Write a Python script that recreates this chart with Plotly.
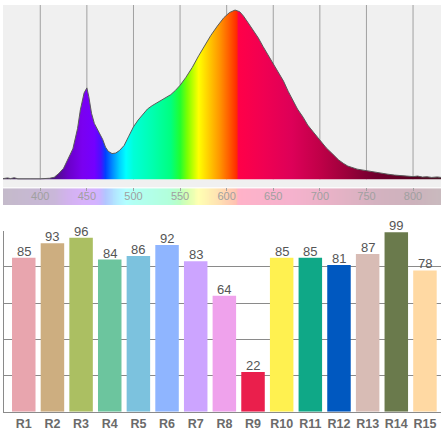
import plotly.graph_objects as go

# ---------------- data ----------------
wavelengths = [360, 365, 368, 372, 376, 380, 390, 400, 405, 410, 415, 420, 425, 430, 435,
               440, 443, 447, 450, 452, 455, 458, 461, 464, 467, 470, 473, 477, 481, 485,
               490, 495, 500, 505, 510, 515, 520, 525, 530, 535, 540, 545, 550, 556, 563,
               570, 577, 583, 590, 597, 603, 609, 614, 618, 623, 628, 634, 639, 645, 650,
               655, 661, 666, 671, 676, 682, 687, 693, 700, 707, 714, 720, 725, 730, 740,
               750, 758, 766, 773, 780, 790, 800, 805, 810, 815, 820, 826, 830]
intensity = [0.004, 0.008, 0.004, 0.009, 0.003, 0.004, 0.003, 0.003, 0.004, 0.006, 0.012, 0.035, 0.065, 0.12, 0.18,
             0.30, 0.41, 0.51, 0.54, 0.49, 0.39, 0.33, 0.30, 0.27, 0.235, 0.19, 0.165, 0.152, 0.155, 0.17,
             0.20, 0.255, 0.31, 0.35, 0.385, 0.415, 0.435, 0.45, 0.465, 0.48, 0.50, 0.525, 0.555, 0.60, 0.66,
             0.73, 0.795, 0.85, 0.905, 0.955, 0.985, 1.0, 0.99, 0.965, 0.925, 0.885, 0.835, 0.785, 0.73, 0.678,
             0.63, 0.58, 0.52, 0.464, 0.415, 0.367, 0.32, 0.279, 0.23, 0.185, 0.148, 0.115, 0.095, 0.078, 0.06,
             0.05, 0.042, 0.035, 0.03, 0.025, 0.02, 0.016, 0.019, 0.013, 0.015, 0.011, 0.014, 0.011]

axis_ticks = [400, 450, 500, 550, 600, 650, 700, 750, 800]

spectrum_stops = [
    (360, "#3a1a50"), (415, "#4a1080"), (430, "#6a00c8"), (445, "#7a00f0"),
    (458, "#7400ff"), (465, "#4a10ff"), (470, "#0040ff"), (478, "#0090ff"),
    (485, "#00d0ff"), (492, "#00ffff"), (500, "#00ffd8"), (520, "#00ffb0"),
    (540, "#00ff80"), (550, "#20ff30"), (558, "#80ff00"), (570, "#ffff00"),
    (580, "#ffd000"), (592, "#ff9800"), (602, "#ff6000"), (611, "#ff2a00"),
    (612.5, "#ff0048"), (640, "#f00052"), (670, "#dd0058"), (700, "#c00048"),
    (730, "#9a003a"), (760, "#70002e"), (800, "#580020"), (830, "#4a1828"),
]

categories = ["R1", "R2", "R3", "R4", "R5", "R6", "R7", "R8", "R9", "R10",
              "R11", "R12", "R13", "R14", "R15"]
ri_values = [85, 93, 96, 84, 86, 92, 83, 64, 22, 85, 85, 81, 87, 99, 78]
bar_colors = ["#e8a5ae", "#cdae80", "#abbf62", "#6cc59e", "#7cc2de", "#8fb5ff",
              "#cca4ff", "#efa2ec", "#ea1f4c", "#fff150", "#0fa887", "#0058c0",
              "#d8bcb5", "#6a7a4c", "#ffd9a3"]

# ---------------- helpers ----------------
WL_MIN, WL_MAX = 360, 830
H = 431.0
W = 441.0


def hex2rgb(h):
    h = h.lstrip("#")
    return tuple(int(h[i:i + 2], 16) for i in (0, 2, 4))


def lighten(h, t=0.7):
    r, g, b = hex2rgb(h)
    return "rgb(%d,%d,%d)" % (round(r + (255 - r) * t), round(g + (255 - g) * t), round(b + (255 - b) * t))


spec_scale = [[(wl - WL_MIN) / (WL_MAX - WL_MIN), c] for wl, c in spectrum_stops]
strip_scale = [[(wl - WL_MIN) / (WL_MAX - WL_MIN), lighten(c)] for wl, c in spectrum_stops]
strip_x = list(range(WL_MIN, WL_MAX + 1))


def ydom(top_px, bot_px):
    return [(H - bot_px) / H, (H - top_px) / H]


Y_TOP = 1.03
Y_BOT = -0.047
FONT = "Liberation Sans, Arial, sans-serif"

fig = go.Figure()

# spectrum
fig.add_trace(go.Scatter(
    x=wavelengths, y=intensity, mode="lines", fill="tozeroy",
    line=dict(color="#5a5a5a", width=1),
    fillgradient=dict(type="horizontal", colorscale=spec_scale, start=WL_MIN, stop=WL_MAX),
    xaxis="x", yaxis="y", showlegend=False, hoverinfo="skip",
))

# colour strip
fig.add_trace(go.Heatmap(
    x=strip_x, y=[0], z=[strip_x], colorscale=strip_scale, zmin=WL_MIN, zmax=WL_MAX,
    showscale=False, xaxis="x2", yaxis="y2", hoverinfo="skip",
))
# dummy trace for top tick marks axis
fig.add_trace(go.Scatter(x=[WL_MIN], y=[0], mode="markers", marker=dict(opacity=0),
                         xaxis="x3", yaxis="y2", showlegend=False, hoverinfo="skip"))

# bars
fig.add_trace(go.Bar(
    x=categories, y=ri_values, marker=dict(color=bar_colors, line=dict(width=0)),
    width=0.82, xaxis="x4", yaxis="y4", showlegend=False, hoverinfo="skip",
))

annotations = [dict(x=c, y=v, xref="x4", yref="y4", text=str(v), showarrow=False,
                    yanchor="bottom", yshift=-3,
                    font=dict(color="#555555", size=13, family=FONT))
               for c, v in zip(categories, ri_values)]

shapes = [dict(type="rect", xref="x domain", yref="y domain", x0=0, x1=1, y0=0, y1=1,
               fillcolor="#f0f0f0", line=dict(width=0), layer="below")]
for t in axis_ticks:
    shapes.append(dict(type="line", xref="x", yref="y", x0=t, x1=t, y0=0, y1=Y_TOP,
                       line=dict(color="#a0a0a0", width=1), layer="below"))

fig.update_layout(
    width=441, height=431,
    margin=dict(l=0, r=0, t=0, b=0),
    paper_bgcolor="white", plot_bgcolor="white",
    font=dict(family=FONT),
    shapes=shapes,
    annotations=annotations,
    xaxis=dict(domain=[3 / W, 1], range=[WL_MIN, WL_MAX], showgrid=False, showticklabels=False,
               zeroline=False, ticks="", anchor="y"),
    yaxis=dict(domain=ydom(5, 189), range=[Y_BOT, Y_TOP], showgrid=False, showticklabels=False,
               zeroline=False, ticks="", anchor="x"),
    xaxis2=dict(domain=[3 / W, 1], range=[WL_MIN, WL_MAX], showgrid=False, zeroline=False,
                tickvals=axis_ticks, ticks="", ticklabelposition="inside",
                tickfont=dict(size=11, color="#a0a0a0", family=FONT), anchor="y2"),
    yaxis2=dict(domain=ydom(190, 207), range=[-0.5, 0.5], showgrid=False, showticklabels=False,
                zeroline=False, ticks="", anchor="x2"),
    xaxis3=dict(overlaying="x2", anchor="y2", side="top", range=[WL_MIN, WL_MAX],
                tickvals=axis_ticks, ticks="inside", ticklen=3, tickcolor="#a0a0a0",
                showticklabels=False, showgrid=False, zeroline=False),
    xaxis4=dict(domain=[4 / W, 1], range=[-0.69, 14.56], anchor="y4", showgrid=False,
                showline=True, linecolor="#8a8a8a", linewidth=1, ticks="",
                tickfont=dict(size=12.5, color="#6a6a6a", family=FONT, weight="bold")),
    yaxis4=dict(domain=ydom(232.7, 415.7), range=[0, 100], dtick=20, anchor="x4",
                showgrid=True, gridcolor="#8a8a8a", gridwidth=1, showline=True,
                linecolor="#8a8a8a", linewidth=1, showticklabels=False, zeroline=False, ticks=""),
)

fig.write_html("out.html", config={"displayModeBar": False},
               post_script="document.body.style.margin='0';document.body.style.overflow='hidden';")
